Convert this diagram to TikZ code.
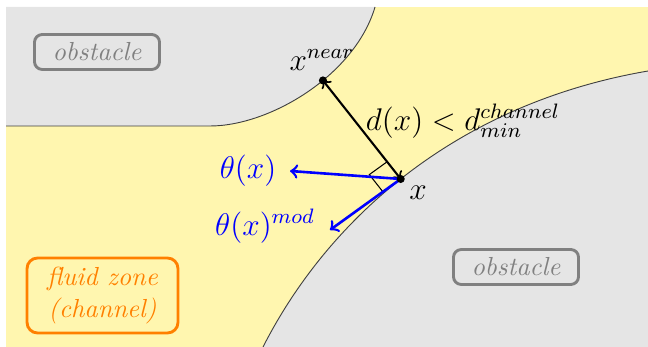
\documentclass[tikz,border=0pt]{standalone}
\usetikzlibrary{calc}
\definecolor{fluidbg}{RGB}{255,246,175}
\definecolor{obstbg}{RGB}{229,229,229}
\begin{document}
\begin{tikzpicture}[x=0.383pt,y=-0.383pt,
  boundary/.style={draw=black!75,line width=0.35pt},
  obstbox/.style={draw=gray,line width=1.1pt,rounded corners=3pt,text=gray,font=\itshape,minimum width=47.9pt,minimum height=13.4pt,inner sep=0pt},
  fluidbox/.style={draw=orange,line width=1.1pt,rounded corners=4pt,text=orange,font=\itshape,minimum width=57.8pt,minimum height=28.7pt,align=center,inner sep=0pt},
  dotpt/.style={circle,fill=black,inner sep=0pt,minimum size=3.1pt},
  mlabel/.style={font=\large},
  blabel/.style={font=\large,text=blue},
  distarrow/.style={<->,thick},
  dirarrow/.style={->,blue,line width=1pt},
  ramark/.style={draw=black,line width=0.4pt}
]
\useasboundingbox (0,0) rectangle (648,347);
\fill[fluidbg] (6,7) rectangle (648,347);
\fill[obstbg] (6,7) -- (375,7) .. controls (355,75) and (270,126) .. (210,126) -- (6,126) -- cycle;
\fill[obstbg] (263,347) .. controls (325,225) and (450,105) .. (648,71) -- (648,347) -- cycle;
\draw[boundary] (6,126) -- (210,126) .. controls (270,126) and (355,75) .. coordinate[pos=0.585] (Xn) (375,7);
\draw[boundary] (263,347) .. controls (325,225) and (450,105) .. coordinate[pos=0.49] (X) (648,71);
\coordinate (Tt) at (290,171);
\coordinate (Tm) at (330,230);
\coordinate (RA) at ($(X)!8.4pt!(Xn)$);
\coordinate (RB) at ($(X)!8.4pt!(Tm)$);
\draw[ramark] (RA) -- ($(RA)+(RB)-(X)$) -- (RB);
\draw[distarrow] (X) -- (Xn);
\draw[dirarrow] (X) -- (Tt);
\draw[dirarrow] (X) -- (Tm);
\node[dotpt] (DX) at (X) {};
\node[dotpt] (DXn) at (Xn) {};
\node[mlabel] (LXn) at (322,60) {$x^{near}$};
\node[mlabel] (LX) at (418,193) {$x$};
\node[mlabel] (Ld) at (463,121) {$d(x) < d^{channel}_{min}$};
\node[blabel] (LT) at (248,171) {$\theta(x)$};
\node[blabel] (LTm) at (265,226) {$\theta(x)^{mod}$};
\node[obstbox] (O1) at (97,52) {obstacle};
\node[obstbox] (O2) at (516,267) {obstacle};
\node[fluidbox] (F) at (102.5,295.5) {fluid zone\\(channel)};
\end{tikzpicture}
\end{document}
